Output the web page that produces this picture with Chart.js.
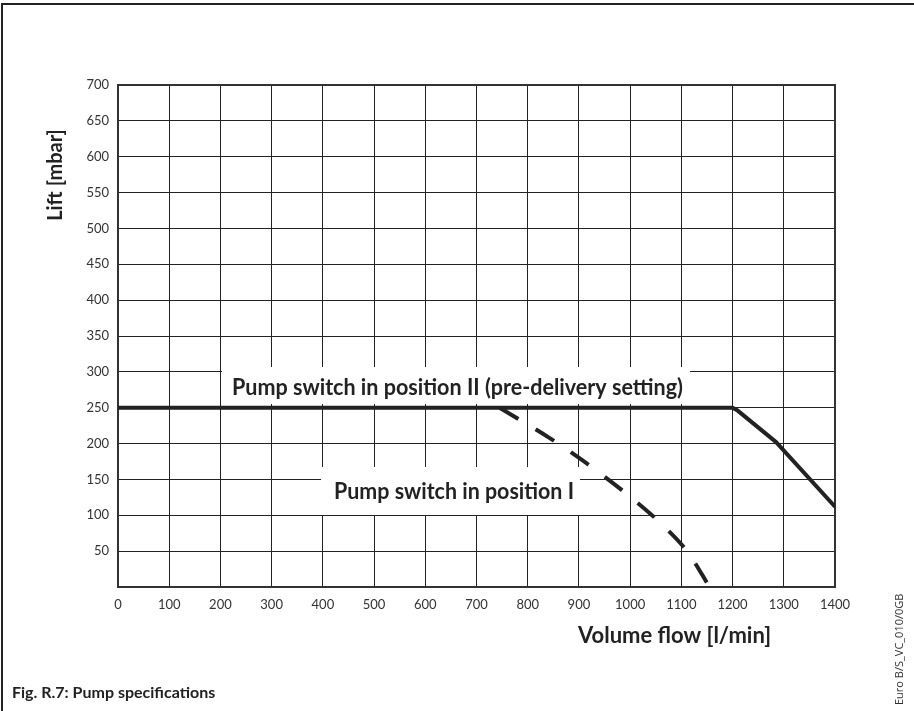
<!DOCTYPE html>
<html>
<head>
<meta charset="utf-8">
<script src="https://cdn.jsdelivr.net/npm/chart.js@4.4.1/dist/chart.umd.min.js"></script>
<style>
html,body{margin:0;padding:0;background:#fff;}
canvas{display:block;}
</style>
</head>
<body>
<canvas id="c" width="914" height="711"></canvas>
<script>
// ---- data ----
const xTickStep = 100;
const yTickStep = 50;
const xMin = 0, xMax = 1400;
const yMin = 0, yMax = 700;

// Pump switch in position II (solid)
const flowPos2 = [0, 1200, 1210, 1285, 1400];
const liftPos2 = [250, 250, 246, 202, 112];

// Pump switch in position I (dashed)
const flowPos1 = [745, 840, 914, 984, 1049, 1109, 1155];
const liftPos1 = [250, 209, 173, 135, 96, 52, 0];

const labelPos2 = "Pump switch in position II (pre-delivery setting)";
const labelPos1 = "Pump switch in position I";
const xTitle = "Volume flow [l/min]";
const yTitle = "Lift [mbar]";
const figCaption = "Fig. R.7: Pump specifications";
const sideCode = "Euro B/S_VC_010/0GB";

const toPts = (xs, ys) => xs.map((x, i) => ({x: x, y: ys[i]}));

const decor = {
  id: 'decor',
  beforeDraw(chart) {
    const ctx = chart.ctx;
    ctx.save();
    ctx.fillStyle = '#fff';
    ctx.fillRect(0, 0, chart.width, chart.height);
    ctx.restore();
  },
  beforeDatasetsDraw(chart) {
    const ctx = chart.ctx;
    ctx.save();
    // white label boxes (cover gridlines)
    ctx.fillStyle = '#fff';
    ctx.fillRect(222, 367, 468, 37);
    ctx.fillRect(321, 467, 259, 48);
    // labels
    ctx.fillStyle = '#222';
    ctx.font = 'bold 22px Lato';
    ctx.textBaseline = 'middle';
    ctx.textAlign = 'left';
    ctx.fillText(labelPos2, 232, 388, 451);
    ctx.fillText(labelPos1, 334, 492, 240);
    // chart area frame
    const a = chart.chartArea;
    ctx.strokeStyle = '#333';
    ctx.lineWidth = 2;
    ctx.strokeRect(a.left, a.top, a.right - a.left, a.bottom - a.top);
    ctx.restore();
  },
  afterDraw(chart) {
    const ctx = chart.ctx;
    ctx.save();
    // outer frame (top and left)
    ctx.strokeStyle = '#222';
    ctx.lineWidth = 2;
    ctx.beginPath();
    ctx.moveTo(2, 720);
    ctx.lineTo(2, 4);
    ctx.lineTo(920, 4);
    ctx.stroke();

    ctx.fillStyle = '#222';
    ctx.textBaseline = 'middle';
    // x title
    ctx.font = 'bold 22px Lato';
    ctx.textAlign = 'left';
    ctx.fillText(xTitle, 578, 636, 212);
    // y title
    ctx.save();
    ctx.translate(56, 175);
    ctx.rotate(-Math.PI / 2);
    ctx.textAlign = 'center';
    ctx.font = 'bold 20px Lato';
    ctx.fillText(yTitle, 0, 0, 102);
    ctx.restore();
    // caption
    ctx.font = 'bold 16px Lato';
    ctx.textAlign = 'left';
    ctx.fillText(figCaption, 12, 693, 218);
    // side code
    ctx.save();
    ctx.translate(900, 705);
    ctx.rotate(-Math.PI / 2);
    ctx.textAlign = 'left';
    ctx.fillStyle = '#333';
    ctx.font = '11px "Open Sans"';
    ctx.fillText(sideCode, 0, 0, 118);
    ctx.restore();
    ctx.restore();
  }
};

new Chart(document.getElementById('c'), {
  type: 'scatter',
  data: {
    datasets: [
      {
        label: labelPos2,
        data: toPts(flowPos2, liftPos2),
        showLine: true,
        borderColor: '#222',
        borderWidth: 4,
        pointRadius: 0,
        tension: 0,
        borderCapStyle: 'butt',
        borderJoinStyle: 'round'
      },
      {
        label: labelPos1,
        data: toPts(flowPos1, liftPos1),
        showLine: true,
        borderColor: '#222',
        borderWidth: 4,
        borderDash: [22, 20],
        pointRadius: 0,
        tension: 0.3,
        borderCapStyle: 'butt'
      }
    ]
  },
  options: {
    responsive: false,
    animation: false,
    layout: { padding: { left: 60, right: 79, top: 85, bottom: 0 } },
    plugins: { legend: { display: false }, tooltip: { enabled: false } },
    scales: {
      x: {
        type: 'linear',
        min: xMin, max: xMax,
        ticks: {
          stepSize: xTickStep,
          color: '#333',
          font: { family: 'Lato', size: 13 },
          padding: 10,
          maxRotation: 0,
          callback: v => String(v)
        },
        grid: { color: '#222', lineWidth: 1, drawTicks: false },
        border: { display: false },
        afterFit: s => { s.height = 124; }
      },
      y: {
        min: yMin, max: yMax,
        ticks: {
          stepSize: yTickStep,
          color: '#333',
          font: { family: 'Lato', size: 13 },
          padding: 9,
          callback: v => v === 0 ? '' : String(v)
        },
        grid: { color: '#222', lineWidth: 1, drawTicks: false },
        border: { display: false },
        afterFit: s => { s.width = 58; }
      }
    }
  },
  plugins: [decor]
});
</script>
</body>
</html>
